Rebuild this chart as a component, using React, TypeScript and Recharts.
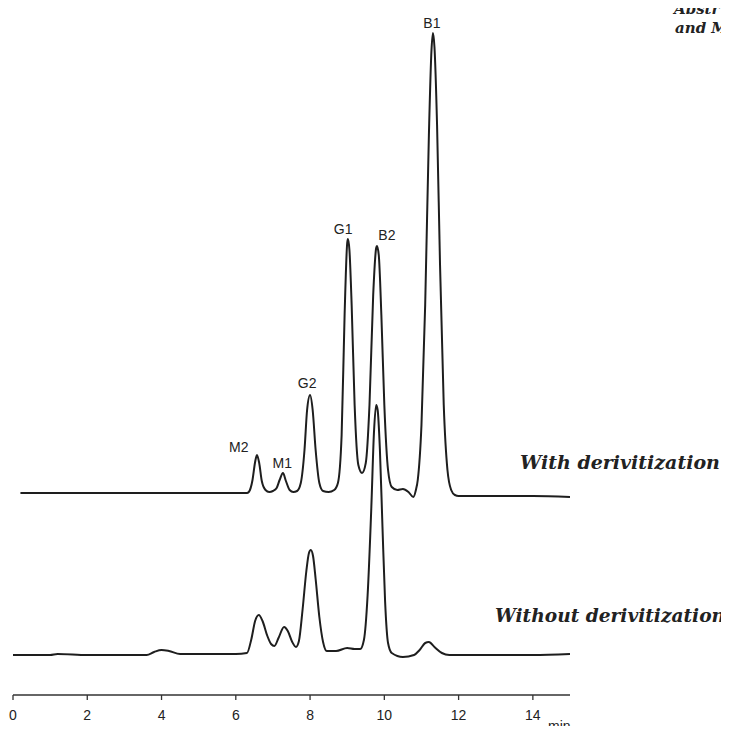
import React from 'react';
import { LineChart, Line, XAxis, YAxis, ReferenceDot } from 'recharts';

// retention time (min) and detector signal, trace with derivitization
const withTimes = [
  0.2, 1.0, 2.0, 3.0, 4.0, 5.0, 6.0, 6.3, 6.35, 6.45, 6.52, 6.57, 6.63, 6.7, 6.8, 6.9, 7.0,
  7.1, 7.18, 7.27, 7.35, 7.45, 7.55, 7.65, 7.75, 7.85, 7.92, 8.0, 8.07, 8.15, 8.25, 8.35, 8.5, 8.65,
  8.75, 8.85, 8.93, 9.0, 9.02, 9.06, 9.12, 9.2, 9.3, 9.4, 9.5, 9.6, 9.7, 9.78, 9.8, 9.85, 9.92,
  10.0, 10.1, 10.2, 10.35, 10.5, 10.65, 10.78, 10.85, 10.9, 11.0, 11.1, 11.2, 11.27, 11.31, 11.35,
  11.42, 11.5, 11.6, 11.7, 11.8, 11.9, 12.0, 12.5, 13.0, 14.0, 15.0,
];
const withSignal = [
  202, 202, 202, 202, 202, 202, 202, 202, 203, 215, 233, 240, 232, 214, 205, 203, 204,
  207, 215, 222, 214, 205, 203, 204, 212, 245, 285, 300, 285, 245, 212, 204, 203, 205,
  212, 260, 380, 452, 456, 445, 390, 290, 230, 222, 232, 290, 400, 447, 449, 440, 380,
  290, 225, 208, 205, 206, 203, 198, 205, 215, 270, 390, 560, 645, 662, 648,
  570, 430, 290, 225, 205, 200, 199, 199, 199, 199, 198,
];

// trace without derivitization
const withoutTimes = [
  0, 1.0, 1.2, 2.0, 3.0, 3.6, 3.8, 4.0, 4.2, 4.5, 5.0, 5.5, 6.0, 6.3, 6.42, 6.52, 6.62, 6.72,
  6.85, 6.95, 7.04, 7.15, 7.3, 7.4, 7.52, 7.62, 7.7, 7.8, 7.9, 7.97, 8.02, 8.08, 8.15, 8.25, 8.35,
  8.45, 8.7, 9.0, 9.2, 9.35, 9.45, 9.55, 9.65, 9.72, 9.78, 9.82, 9.88, 9.95, 10.02, 10.1, 10.2,
  10.5, 10.8, 10.95, 11.1, 11.2, 11.35, 11.55, 11.75, 12.0, 13.0, 14.0, 15.0,
];
const withoutSignal = [
  40, 40, 41, 40, 40, 40, 43, 45, 44, 41, 41, 41, 41, 42, 56, 74, 80, 74,
  59, 51, 49, 57, 68, 64, 53, 48, 54, 86, 124, 142, 145, 139, 116, 78, 53,
  44, 44, 47, 46, 46, 55, 100, 188, 262, 290, 285, 246, 168, 94, 52, 42,
  38, 40, 45, 52, 53, 48, 42, 40, 40, 40, 40, 41,
];

const peakNames = ['M2', 'M1', 'G2', 'G1', 'B2', 'B1'];
const peakLabelTimes = [6.08, 7.25, 7.92, 8.89, 10.07, 11.28];
const peakLabelSignal = [248, 232, 312, 466, 460, 672];

const timeTicks = [0, 2, 4, 6, 8, 10, 12, 14];

const withData = withTimes.map((t, i) => ({ t, v: withSignal[i] }));
const withoutData = withoutTimes.map((t, i) => ({ t, v: withoutSignal[i] }));

const sans = '"Liberation Sans", Arial, sans-serif';

const serifNote: React.CSSProperties = {
  position: 'absolute',
  fontFamily: '"DejaVu Serif", "Liberation Serif", serif',
  fontWeight: 'bold',
  fontStyle: 'italic',
  color: '#222',
  whiteSpace: 'nowrap',
  lineHeight: 1.3,
};

export default function App() {
  return (
    <div style={{ position: 'relative', margin: -8, width: 729, height: 734, overflow: 'hidden', background: '#fff' }}>
      <div style={{ position: 'absolute', left: 8, top: 8 }}>
        <LineChart width={713} height={718} margin={{ top: 2, right: 151, left: 5, bottom: 0 }}>
          <XAxis
            type="number"
            dataKey="t"
            domain={[0, 15]}
            ticks={timeTicks}
            allowDataOverflow
            height={31}
            stroke="#333"
            strokeWidth={1.3}
            tickSize={5}
            tickMargin={10}
            tick={{ fill: '#222', fontSize: 14, fontFamily: sans }}
          />
          <YAxis type="number" domain={[0, 685]} hide allowDataOverflow />
          <Line data={withData} dataKey="v" type="monotone" stroke="#1e1e1e" strokeWidth={2} dot={false} isAnimationActive={false} />
          <Line data={withoutData} dataKey="v" type="monotone" stroke="#1e1e1e" strokeWidth={2} dot={false} isAnimationActive={false} />
          {peakNames.map((name, i) => (
            <ReferenceDot
              key={name}
              x={peakLabelTimes[i]}
              y={peakLabelSignal[i]}
              r={0}
              fill="none"
              stroke="none"
              label={{ value: name, position: 'center', fill: '#222', fontSize: 14, fontFamily: sans }}
            />
          ))}
        </LineChart>
      </div>
      <div style={{ position: 'absolute', left: 548, top: 719, fontSize: 14, lineHeight: '14px', fontFamily: sans, color: '#222' }}>min</div>
      <div style={{ ...serifNote, left: 520, top: 450, fontSize: 19 }}>With derivitization</div>
      <div style={{ ...serifNote, left: 495, top: 604, fontSize: 18.6 }}>Without derivitization</div>
      <div style={{ ...serifNote, left: 674, top: 0, fontSize: 15 }}>Abstr</div>
      <div style={{ ...serifNote, left: 675, top: 19, fontSize: 15 }}>and M</div>
    </div>
  );
}
